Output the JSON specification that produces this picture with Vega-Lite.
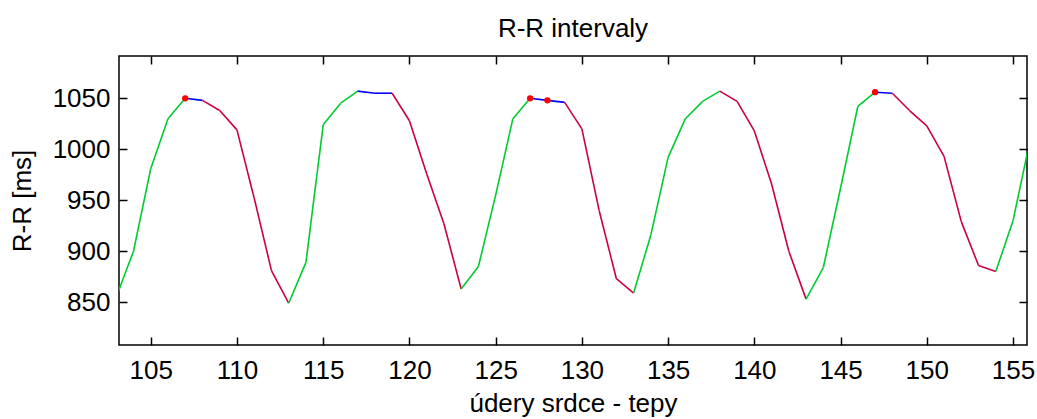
{
  "$schema": "https://vega.github.io/schema/vega-lite/v6.json",
  "autosize": "none",
  "width": 908,
  "height": 289,
  "padding": {"left": 119, "top": 56, "right": 10, "bottom": 74},
  "background": "white",
  "config": {
    "font": "Liberation Sans",
    "view": {"stroke": "#000000", "strokeWidth": 1.5},
    "axis": {"grid": false, "domain": false, "tickColor": "#000000", "tickWidth": 1.5, "tickSize": 8, "offset": -8, "labelColor": "#000000", "titleColor": "#000000", "labelFontSize": 26, "titleFontSize": 26, "titleFontWeight": "normal", "labelFont": "Liberation Sans", "titleFont": "Liberation Sans"}
  },
  "title": {"text": "R-R intervaly", "fontSize": 26, "fontWeight": "normal", "font": "Liberation Sans", "color": "#000000", "anchor": "middle", "offset": 13},
  "data": {"values": [
    {"x": 103, "y": 855, "trend": "up", "peak": false},
    {"x": 104, "y": 900, "trend": "up", "peak": false},
    {"x": 105, "y": 981, "trend": "up", "peak": false},
    {"x": 106, "y": 1030, "trend": "up", "peak": false},
    {"x": 107, "y": 1050, "trend": "flat", "peak": true},
    {"x": 108, "y": 1048, "trend": "down", "peak": false},
    {"x": 109, "y": 1038, "trend": "down", "peak": false},
    {"x": 110, "y": 1019, "trend": "down", "peak": false},
    {"x": 111, "y": 952, "trend": "down", "peak": false},
    {"x": 112, "y": 881, "trend": "down", "peak": false},
    {"x": 113, "y": 849, "trend": "up", "peak": false},
    {"x": 114, "y": 889, "trend": "up", "peak": false},
    {"x": 115, "y": 1024, "trend": "up", "peak": false},
    {"x": 116, "y": 1045, "trend": "up", "peak": false},
    {"x": 117, "y": 1057, "trend": "flat", "peak": false},
    {"x": 118, "y": 1055, "trend": "flat", "peak": false},
    {"x": 119, "y": 1055, "trend": "down", "peak": false},
    {"x": 120, "y": 1028, "trend": "down", "peak": false},
    {"x": 121, "y": 976, "trend": "down", "peak": false},
    {"x": 122, "y": 927, "trend": "down", "peak": false},
    {"x": 123, "y": 863, "trend": "up", "peak": false},
    {"x": 124, "y": 885, "trend": "up", "peak": false},
    {"x": 125, "y": 955, "trend": "up", "peak": false},
    {"x": 126, "y": 1030, "trend": "up", "peak": false},
    {"x": 127, "y": 1050, "trend": "flat", "peak": true},
    {"x": 128, "y": 1048, "trend": "flat", "peak": true},
    {"x": 129, "y": 1046, "trend": "down", "peak": false},
    {"x": 130, "y": 1020, "trend": "down", "peak": false},
    {"x": 131, "y": 940, "trend": "down", "peak": false},
    {"x": 132, "y": 873, "trend": "down", "peak": false},
    {"x": 133, "y": 859, "trend": "up", "peak": false},
    {"x": 134, "y": 916, "trend": "up", "peak": false},
    {"x": 135, "y": 992, "trend": "up", "peak": false},
    {"x": 136, "y": 1030, "trend": "up", "peak": false},
    {"x": 137, "y": 1047, "trend": "up", "peak": false},
    {"x": 138, "y": 1057, "trend": "down", "peak": false},
    {"x": 139, "y": 1047, "trend": "down", "peak": false},
    {"x": 140, "y": 1018, "trend": "down", "peak": false},
    {"x": 141, "y": 966, "trend": "down", "peak": false},
    {"x": 142, "y": 900, "trend": "down", "peak": false},
    {"x": 143, "y": 853, "trend": "up", "peak": false},
    {"x": 144, "y": 884, "trend": "up", "peak": false},
    {"x": 145, "y": 962, "trend": "up", "peak": false},
    {"x": 146, "y": 1042, "trend": "up", "peak": false},
    {"x": 147, "y": 1056, "trend": "flat", "peak": true},
    {"x": 148, "y": 1055, "trend": "down", "peak": false},
    {"x": 149, "y": 1038, "trend": "down", "peak": false},
    {"x": 150, "y": 1023, "trend": "down", "peak": false},
    {"x": 151, "y": 993, "trend": "down", "peak": false},
    {"x": 152, "y": 929, "trend": "down", "peak": false},
    {"x": 153, "y": 886, "trend": "down", "peak": false},
    {"x": 154, "y": 880, "trend": "up", "peak": false},
    {"x": 155, "y": 930, "trend": "up", "peak": false},
    {"x": 156, "y": 1010, "trend": "up", "peak": false}
  ]},
  "layer": [
    {
      "transform": [
        {"window": [{"op": "lead", "field": "x", "as": "x2"}, {"op": "lead", "field": "y", "as": "y2"}], "sort": [{"field": "x", "order": "ascending"}]},
        {"filter": "isValid(datum.x2)"}
      ],
      "mark": {"type": "rule", "strokeWidth": 1.6, "clip": true},
      "encoding": {
        "x": {"field": "x", "type": "quantitative", "scale": {"domain": [103.16, 155.81], "nice": false, "zero": false},
              "axis": {"orient": "bottom", "values": [105, 110, 115, 120, 125, 130, 135, 140, 145, 150, 155], "format": "d", "title": "údery srdce - tepy", "labelPadding": 12, "titlePadding": 7}},
        "x2": {"field": "x2"},
        "y": {"field": "y", "type": "quantitative", "scale": {"domain": [808, 1091.5], "nice": false, "zero": false},
              "axis": {"orient": "left", "values": [850, 900, 950, 1000, 1050], "format": "d", "title": "R-R [ms]", "labelPadding": 9, "titlePadding": 17}},
        "y2": {"field": "y2"},
        "color": {"field": "trend", "type": "nominal", "scale": {"domain": ["up", "down", "flat"], "range": ["#00cc33", "#cc0044", "#0000ff"]}, "legend": null}
      }
    },
    {
      "transform": [{"filter": "datum.peak"}],
      "mark": {"type": "circle", "color": "#ff0000", "opacity": 1, "size": 40, "clip": true},
      "encoding": {
        "x": {"field": "x", "type": "quantitative", "axis": {"orient": "top", "values": [105, 110, 115, 120, 125, 130, 135, 140, 145, 150, 155], "labels": false, "title": null}},
        "y": {"field": "y", "type": "quantitative", "axis": {"orient": "right", "values": [850, 900, 950, 1000, 1050], "labels": false, "title": null}}
      }
    }
  ],
  "resolve": {"axis": {"x": "independent", "y": "independent"}}
}
